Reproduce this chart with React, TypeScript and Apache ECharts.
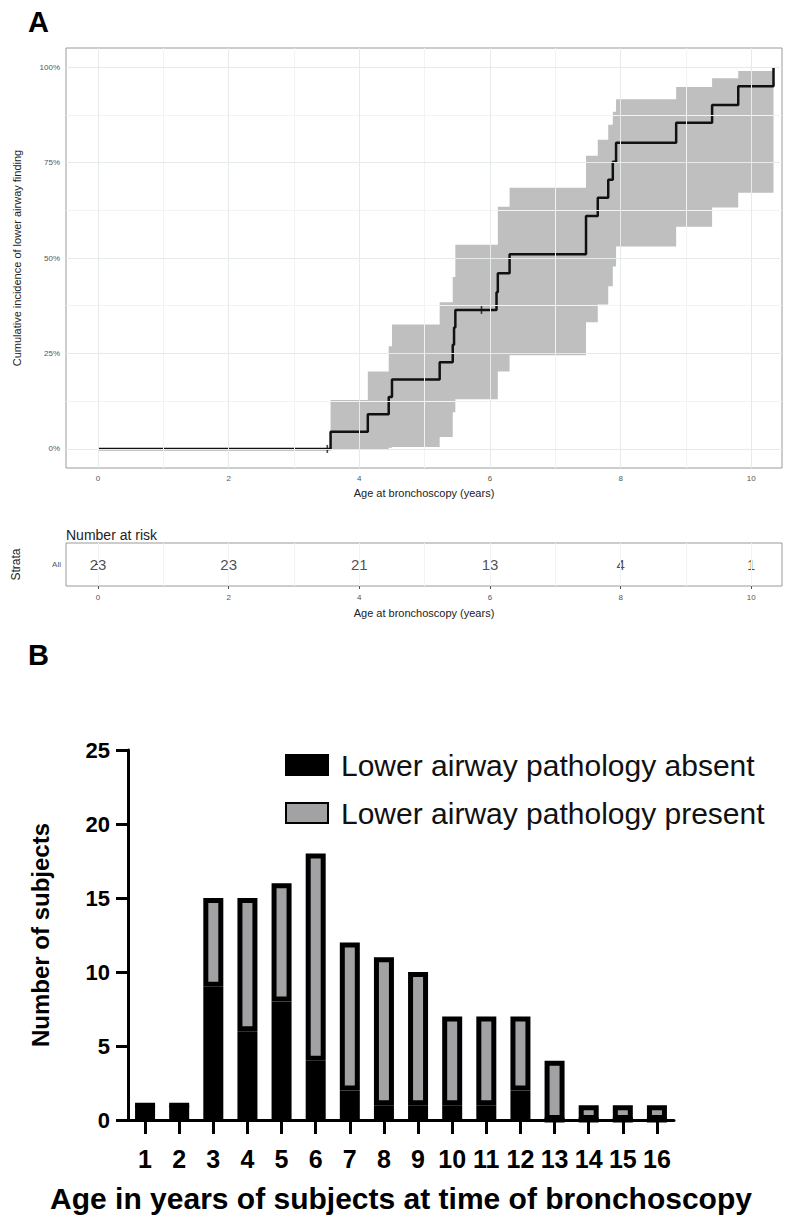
import React, { useEffect, useRef } from "react";
import * as echarts from "echarts";

// ---------- Panel A: cumulative incidence ----------
const kmTimes = [0, 3.56, 4.13, 4.45, 4.5, 5.23, 5.43, 5.45, 5.47, 6.1, 6.12, 6.3, 7.47, 7.65, 7.81, 7.88, 7.93, 8.85, 9.4, 9.8, 10.34];
const kmIncidence = [0, 4.5, 9.1, 13.6, 18.2, 22.7, 27.3, 31.8, 36.4, 41, 46, 51, 61, 65.8, 70.5, 75.2, 80.2, 85.4, 90.1, 95, 100];
const censorTimes = [3.51, 5.87];
const censorValues = [0, 36.4];
const ciTimes = [3.56, 4.13, 4.45, 4.5, 5.23, 5.43, 5.47, 6.12, 6.3, 7.47, 7.65, 7.81, 7.88, 7.93, 8.85, 9.4, 9.8, 10.34];
const ciLower = [0, 0, 0.3, 0.5, 3.1, 9.6, 13, 20.3, 24.5, 33.2, 37.8, 42.6, 47.8, 53, 58.2, 63.2, 67.1, 67.1];
const ciUpper = [12.8, 20.3, 26.9, 32.6, 38.4, 45, 53.5, 63.4, 68.4, 76.8, 81, 84.9, 88.3, 91.6, 94.8, 97.1, 99, 99];
const xTicksA = [0, 2, 4, 6, 8, 10];
const xMinorA = [1, 3, 5, 7, 9];
const yTicksA = [0, 25, 50, 75, 100];
const yMinorA = [12.5, 37.5, 62.5, 87.5];

// ---------- Number at risk ----------
const riskTimes = [0, 2, 4, 6, 8, 10];
const riskCounts = [23, 23, 21, 13, 4, 1];
const strata = ["All"];

// ---------- Panel B: bar chart ----------
const ages = ["1", "2", "3", "4", "5", "6", "7", "8", "9", "10", "11", "12", "13", "14", "15", "16"];
const absent = [1, 1, 9, 6, 8, 4, 2, 1, 1, 1, 1, 2, 0, 0, 0, 0];
const present = [0, 0, 6, 9, 8, 14, 10, 10, 9, 6, 6, 5, 4, 1, 1, 1];

const FONT = "Arial, 'Liberation Sans', Helvetica, sans-serif";
const XMIN = -0.49;
const XMAX = 10.47;

function renderBand(params: any, api: any) {
  const n = ciTimes.length;
  const pts: number[][] = [];
  for (let i = 0; i < n; i++) {
    pts.push(api.coord([ciTimes[i], ciUpper[i]]));
    if (i < n - 1) pts.push(api.coord([ciTimes[i + 1], ciUpper[i]]));
  }
  for (let i = n - 1; i >= 0; i--) {
    if (i < n - 1) pts.push(api.coord([ciTimes[i + 1], ciLower[i]]));
    pts.push(api.coord([ciTimes[i], ciLower[i]]));
  }
  return {
    type: "polygon",
    shape: { points: pts },
    style: { fill: "#bfbfbf", stroke: "none" },
  };
}

function buildOption() {
  const gridMajor = "#e6eaea";
  const gridMinor = "#f2f4f4";
  const tickLabel = { fontSize: 8, color: "#555", fontFamily: FONT };

  const lineData = kmTimes.map((t, i) => [t, kmIncidence[i]]);
  const censorData = censorTimes.map((t, i) => [t, censorValues[i]]);
  const riskData = riskTimes.map((t, i) => [t, "All", riskCounts[i]]);

  return {
    animation: false,
    backgroundColor: "#ffffff",
    textStyle: { fontFamily: FONT },
    title: [
      { text: "A", left: 23, top: 2, textStyle: { fontSize: 29, fontWeight: "bold", color: "#000", fontFamily: FONT } },
      { text: "Number at risk", left: 61, top: 523, textStyle: { fontSize: 14, fontWeight: "normal", color: "#222", fontFamily: FONT } },
      { text: "B", left: 23, top: 635, textStyle: { fontSize: 29, fontWeight: "bold", color: "#000", fontFamily: FONT } },
    ],
    legend: {
      orient: "vertical",
      left: 280,
      top: 745,
      itemWidth: 42,
      itemHeight: 20,
      itemGap: 18,
      icon: "rect",
      textStyle: { fontSize: 30, color: "#111", fontFamily: FONT, padding: [0, 0, 0, 8] },
      data: ["Lower airway pathology absent", "Lower airway pathology present"],
    },
    grid: [
      { left: 66, top: 48, width: 716, height: 420, show: true, borderColor: "#9a9a9a", borderWidth: 1, backgroundColor: "transparent" },
      { left: 66, top: 543, width: 716, height: 43, show: true, borderColor: "#9a9a9a", borderWidth: 1 },
      { left: 128, top: 750, width: 546, height: 370 },
    ],
    xAxis: [
      {
        gridIndex: 0, type: "value", min: XMIN, max: XMAX,
        name: "Age at bronchoscopy (years)", nameLocation: "middle", nameGap: 19,
        nameTextStyle: { fontSize: 11, color: "#222", fontFamily: FONT },
        axisLine: { show: false },
        axisTick: { show: true, length: 3, customValues: xTicksA, lineStyle: { color: "#555" } },
        axisLabel: { ...tickLabel, margin: 6, customValues: xTicksA },
        splitLine: { show: false },
      },
      {
        gridIndex: 1, type: "value", min: XMIN, max: XMAX,
        name: "Age at bronchoscopy (years)", nameLocation: "middle", nameGap: 21,
        nameTextStyle: { fontSize: 11, color: "#222", fontFamily: FONT },
        axisLine: { show: false },
        axisTick: { show: true, length: 3, customValues: xTicksA, lineStyle: { color: "#555" } },
        axisLabel: { ...tickLabel, margin: 7, customValues: xTicksA },
        splitLine: { show: false },
      },
      {
        gridIndex: 2, type: "category", data: ages,
        name: "Age in years of subjects at time of bronchoscopy", nameLocation: "middle", nameGap: 63,
        nameTextStyle: { fontSize: 30, fontWeight: "bold", color: "#000", fontFamily: FONT },
        axisLine: { show: true, lineStyle: { color: "#000", width: 3 } },
        axisTick: { show: true, alignWithLabel: true, length: 14, lineStyle: { color: "#000", width: 3 } },
        axisLabel: { fontSize: 25, fontWeight: "bold", color: "#000", margin: 26, interval: 0, fontFamily: FONT },
        splitLine: { show: false },
      },
    ],
    yAxis: [
      {
        gridIndex: 0, type: "value", min: -5, max: 105,
        name: "Cumulative incidence of lower airway finding", nameLocation: "middle", nameGap: 44,
        nameTextStyle: { fontSize: 11, color: "#222", fontFamily: FONT },
        axisLine: { show: false },
        axisTick: { show: true, length: 3, customValues: yTicksA, lineStyle: { color: "#555" } },
        axisLabel: { ...tickLabel, margin: 6, customValues: yTicksA, formatter: (v: number) => `${v}%` },
        splitLine: { show: false },
      },
      {
        gridIndex: 1, type: "category", data: strata,
        name: "Strata", nameLocation: "middle", nameGap: 44,
        nameTextStyle: { fontSize: 12, color: "#222", fontFamily: FONT },
        axisLine: { show: false },
        axisTick: { show: true, length: 3, alignWithLabel: true, lineStyle: { color: "#555" } },
        axisLabel: { ...tickLabel, margin: 5 },
        splitLine: { show: false },
      },
      {
        gridIndex: 2, type: "value", min: 0, max: 25, interval: 5,
        name: "Number of subjects", nameLocation: "middle", nameGap: 76,
        nameTextStyle: { fontSize: 24, fontWeight: "bold", color: "#000", fontFamily: FONT },
        axisLine: { show: true, lineStyle: { color: "#000", width: 3 } },
        axisTick: { show: true, length: 12, lineStyle: { color: "#000", width: 3 } },
        axisLabel: { fontSize: 22, fontWeight: "bold", color: "#000", margin: 18, fontFamily: FONT },
        splitLine: { show: false },
      },
    ],
    series: [
      // grid lines panel A
      {
        type: "line", xAxisIndex: 0, yAxisIndex: 0, data: [], showSymbol: false, silent: true, z: 1,
        markLine: {
          silent: true, symbol: "none", label: { show: false }, animation: false,
          lineStyle: { color: gridMinor, type: "solid", width: 1 },
          data: [...xMinorA.map((v) => ({ xAxis: v })), ...yMinorA.map((v) => ({ yAxis: v }))],
        },
      },
      {
        type: "line", xAxisIndex: 0, yAxisIndex: 0, data: [], showSymbol: false, silent: true, z: 1,
        markLine: {
          silent: true, symbol: "none", label: { show: false }, animation: false,
          lineStyle: { color: gridMajor, type: "solid", width: 1 },
          data: [...xTicksA.map((v) => ({ xAxis: v })), ...yTicksA.map((v) => ({ yAxis: v }))],
        },
      },
      // confidence band
      {
        type: "custom", xAxisIndex: 0, yAxisIndex: 0, z: 2, silent: true,
        data: [[ciTimes[0], ciLower[0]]],
        renderItem: renderBand,
      },
      // estimate
      {
        type: "line", xAxisIndex: 0, yAxisIndex: 0, data: lineData, step: "end",
        showSymbol: false, silent: true, z: 3, lineStyle: { color: "#111", width: 2.5 },
      },
      {
        type: "scatter", xAxisIndex: 0, yAxisIndex: 0, data: censorData, z: 4,
        symbol: "rect", symbolSize: [1.6, 8], itemStyle: { color: "#111" },
      },
      // risk table grid lines
      {
        type: "line", xAxisIndex: 1, yAxisIndex: 1, data: [], showSymbol: false, silent: true, z: 1,
        markLine: {
          silent: true, symbol: "none", label: { show: false }, animation: false,
          lineStyle: { color: gridMinor, type: "solid", width: 1 },
          data: [...xTicksA, ...xMinorA].map((v) => ({ xAxis: v })),
        },
      },
      {
        type: "scatter", xAxisIndex: 1, yAxisIndex: 1, data: riskData, z: 3,
        symbolSize: 1, itemStyle: { color: "rgba(0,0,0,0)" },
        label: {
          show: true, position: "inside", fontSize: 15, color: "#222", fontFamily: FONT,
          formatter: (p: any) => String(p.value[2]),
        },
      },
      // Panel B
      {
        name: "Lower airway pathology absent", type: "bar", xAxisIndex: 2, yAxisIndex: 2,
        stack: "b", data: absent, barWidth: 20,
        itemStyle: { color: "#000", borderColor: "#000", borderWidth: 5 },
      },
      {
        name: "Lower airway pathology present", type: "bar", xAxisIndex: 2, yAxisIndex: 2,
        stack: "b", data: present, barWidth: 20,
        itemStyle: { color: "#a2a2a4", borderColor: "#000", borderWidth: 5 },
      },
    ],
  };
}

export default function App() {
  const ref = useRef<HTMLDivElement>(null);
  useEffect(() => {
    if (!ref.current) return;
    const chart = echarts.init(ref.current, null, { renderer: "svg" });
    chart.setOption(buildOption() as any);
    return () => chart.dispose();
  }, []);
  return (
    <div
      ref={ref}
      style={{ position: "absolute", left: 0, top: 0, width: 785, height: 1218, background: "#fff" }}
    />
  );
}
